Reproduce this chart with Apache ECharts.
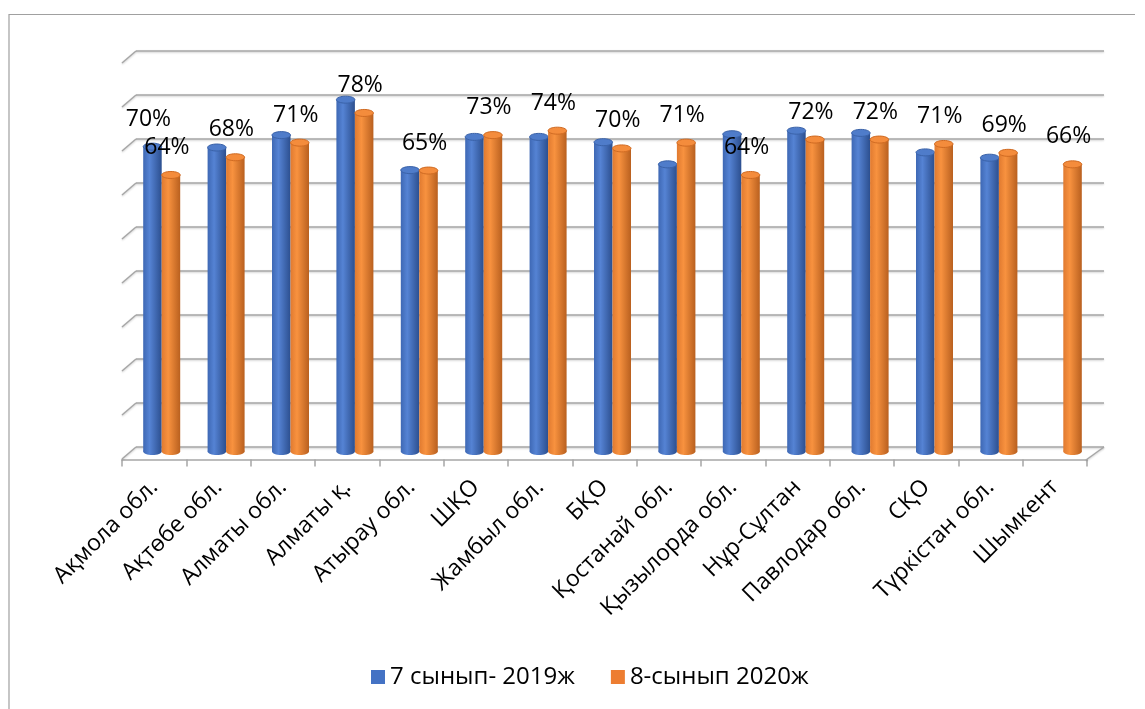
<!DOCTYPE html>
<html>
<head>
<meta charset="utf-8">
<script src="https://cdn.jsdelivr.net/npm/echarts@6/dist/echarts.min.js"></script>
<style>
    html, body {
        margin: 0;
        padding: 0;
        background: #fff;
    }

    #chart {
        width: 1145px;
        height: 709px;
    }
</style>
</head>
<body>
<div id="chart"></div>
<script>
    // категориялар мен мәндер (%)
    var regions = ['Ақмола обл.', 'Ақтөбе обл.', 'Алматы обл.', 'Алматы қ.', 'Атырау обл.', 'ШҚО',
        'Жамбыл обл.', 'БҚО', 'Қостанай обл.', 'Қызылорда обл.', 'Нұр-Сұлтан', 'Павлодар обл.',
        'СҚО', 'Түркістан обл.', 'Шымкент'];
    var grade7_2019 = [70.4, 70.2, 73, 81, 65.1, 72.6, 72.6, 71.4, 66.4, 73.2, 74, 73.5, 69.1, 67.9, null];
    var grade8_2020 = [64, 68, 71.3, 78, 65, 73, 74, 70, 71.3, 64, 72, 72, 71, 69, 66.4];
    var seriesNames = ['7 сынып- 2019ж', '8-сынып 2020ж'];
    // only this blue label is visible on the original
    var blueLabelShown = ['Ақмола обл.'];
    var wallTicks = [0, 10, 20, 30, 40, 50, 60, 70, 80, 90];

    var chart = echarts.init(document.getElementById('chart'));
    var font = '"Open Sans", "Noto Sans", sans-serif';
    var gridColor = '#a6a6a6';

    function grad(c1, c2, c3) {
        return {
            type: 'linear', x: 0, y: 0, x2: 1, y2: 0,
            colorStops: [
                {offset: 0, color: c1},
                {offset: 0.35, color: c2},
                {offset: 1, color: c3}
            ]
        };
    }

    var blueFill = grad('#3e68b4', '#5583d4', '#2c4f8f');
    var orangeFill = grad('#e07a30', '#f8923f', '#b9601f');

    // cylinder bar, side = -1 (left) / 1 (right)
    function cylinder(side, fill, capFill, capStroke, showLabel) {
        return function (params, api) {
            var v = api.value(1);
            if (v == null || isNaN(v)) {
                return;
            }
            var top = api.coord([api.value(0), v]);
            var base = api.coord([api.value(0), 0]);
            var w = 18.5, ry = 3.5;
            var cx = top[0] + side * w / 2;
            var children = [
                {type: 'ellipse', shape: {cx: cx, cy: base[1] - ry, rx: w / 2, ry: ry}, style: {fill: fill}},
                {
                    type: 'rect',
                    shape: {x: cx - w / 2, y: top[1] + ry, width: w, height: base[1] - top[1] - 2 * ry},
                    style: {fill: fill}
                },
                {
                    type: 'ellipse', shape: {cx: cx, cy: top[1] + ry, rx: w / 2, ry: ry},
                    style: {fill: capFill, stroke: capStroke, lineWidth: 1}
                }
            ];
            if (showLabel(params.dataIndex)) {
                children.push({
                    type: 'text',
                    style: {
                        text: Math.round(v) + '%',
                        x: cx - 4, y: top[1] - 24,
                        align: 'center', verticalAlign: 'middle',
                        font: '23px ' + font, fill: '#000'
                    }
                });
            }
            return {type: 'group', children: children};
        };
    }

    function pairs(arr) {
        return arr.map(function (v, i) {
            return [i, v];
        });
    }

    var option = {
        animation: false,
        backgroundColor: '#fff',
        textStyle: {fontFamily: font},
        graphic: [{
            type: 'polyline',
            shape: {points: [[9, 720], [9, 14.5], [1135, 14.5]]},
            style: {stroke: '#a0a0a0', lineWidth: 1.2, fill: null},
            silent: true
        }],
        legend: {
            data: seriesNames,
            left: 371,
            top: 664,
            padding: 0,
            itemGap: 36,
            itemWidth: 14,
            itemHeight: 14,
            icon: 'rect',
            textStyle: {fontSize: 24, color: '#000', lineHeight: 26, fontFamily: font}
        },
        grid: [
            {left: 136, width: 968, top: 51, height: 396},     // back wall
            {left: 129.5, width: 966, top: 56.3, height: 398.7}, // bars
            {left: 122, width: 965, top: 458, height: 1.5}      // front floor edge
        ],
        xAxis: [
            {gridIndex: 0, type: 'value', min: 0, max: 1, show: false},
            {gridIndex: 1, type: 'category', data: regions, show: false},
            {
                gridIndex: 2, type: 'category', data: regions,
                axisLine: {lineStyle: {color: gridColor, width: 1.5}},
                axisTick: {show: true, length: 7, lineStyle: {color: gridColor, width: 1.5}},
                axisLabel: {
                    interval: 0, rotate: 45, margin: 24,
                    fontSize: 23, color: '#000', fontFamily: font
                }
            }
        ],
        yAxis: [
            {
                gridIndex: 0, type: 'value', min: 0, max: 90, interval: 10,
                axisLine: {show: false}, axisTick: {show: false}, axisLabel: {show: false},
                splitLine: {
                    show: true,
                    lineStyle: {
                        color: gridColor, width: 1.5,
                        shadowColor: 'rgba(0,0,0,0.2)', shadowBlur: 2, shadowOffsetY: 1
                    }
                }
            },
            {gridIndex: 1, type: 'value', min: 0, max: 90, show: false},
            {gridIndex: 2, type: 'value', min: 0, max: 1, show: false}
        ],
        series: [
            {
                // depth edges of the wall gridlines
                type: 'custom',
                xAxisIndex: 0, yAxisIndex: 0,
                silent: true,
                data: wallTicks.map(function (v) {
                    return [0, v];
                }),
                renderItem: function (params, api) {
                    var p = api.coord([0, api.value(1)]);
                    var st = {stroke: gridColor, lineWidth: 1.5, shadowColor: 'rgba(0,0,0,0.2)', shadowBlur: 2, shadowOffsetY: 1};
                    var children = [{type: 'line', shape: {x1: p[0] - 14, y1: p[1] + 12, x2: p[0], y2: p[1]}, style: st}];
                    if (api.value(1) === 0) {
                        var q = api.coord([1, 0]);
                        children.push({type: 'line', shape: {x1: q[0] - 18, y1: q[1] + 13, x2: q[0], y2: q[1]}, style: st});
                    }
                    return {type: 'group', children: children};
                }
            },
            {
                name: seriesNames[0],
                type: 'custom',
                xAxisIndex: 1, yAxisIndex: 1,
                itemStyle: {color: '#4472C4'},
                data: pairs(grade7_2019),
                renderItem: cylinder(-1, blueFill, '#4f7cca', '#3a62a8', function (i) {
                    return blueLabelShown.indexOf(regions[i]) >= 0;
                })
            },
            {
                name: seriesNames[1],
                type: 'custom',
                xAxisIndex: 1, yAxisIndex: 1,
                itemStyle: {color: '#ED7D31'},
                data: pairs(grade8_2020),
                renderItem: cylinder(1, orangeFill, '#f48c3c', '#cf6a22', function () {
                    return true;
                })
            }
        ]
    };

    chart.setOption(option);
</script>
</body>
</html>
